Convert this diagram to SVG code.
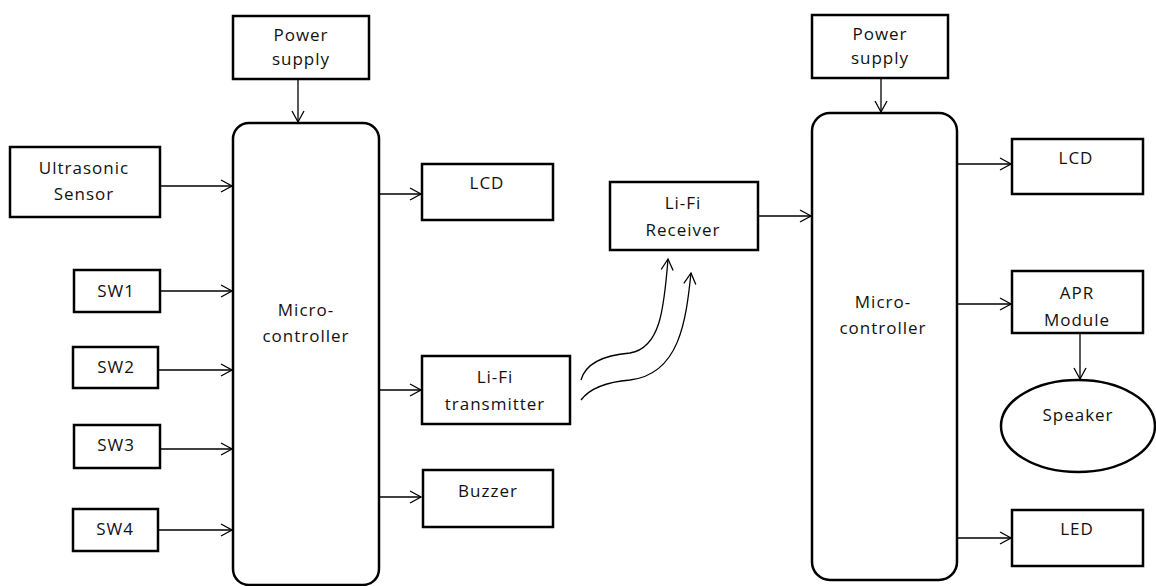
<svg xmlns="http://www.w3.org/2000/svg" width="1156" height="586" viewBox="0 0 1156 586">
<style>
.box{fill:#fff;stroke:#000;stroke-width:2.5}
.t{font-family:"Open Sans","DejaVu Sans",sans-serif;font-size:17px;fill:#111;text-anchor:middle;letter-spacing:1px}
.c{fill:none;stroke:#000;stroke-width:1.3}
</style>
<defs>
<marker id="ah" markerWidth="14" markerHeight="14" refX="12" refY="7" orient="auto" markerUnits="userSpaceOnUse">
<polyline points="1,1 12,7 1,13" fill="none" stroke="#000" stroke-width="1.3"/>
</marker>
</defs>
<rect width="1156" height="586" fill="#fff"/>
<g id="connectors">
<line class="c" x1="298" y1="79" x2="298" y2="122" marker-end="url(#ah)"/>
<line class="c" x1="160" y1="186" x2="232" y2="186" marker-end="url(#ah)"/>
<line class="c" x1="160" y1="291" x2="232" y2="291" marker-end="url(#ah)"/>
<line class="c" x1="158" y1="370" x2="232" y2="370" marker-end="url(#ah)"/>
<line class="c" x1="160" y1="449" x2="232" y2="449" marker-end="url(#ah)"/>
<line class="c" x1="158" y1="530" x2="232" y2="530" marker-end="url(#ah)"/>
<line class="c" x1="380" y1="194" x2="421" y2="194" marker-end="url(#ah)"/>
<line class="c" x1="380" y1="390" x2="421" y2="390" marker-end="url(#ah)"/>
<line class="c" x1="380" y1="497" x2="421" y2="497" marker-end="url(#ah)"/>
<path class="c" d="M581,380 C586,362 606,355 630,353 C660,348 664,310 668,259" marker-end="url(#ah)"/>
<path class="c" d="M581,400 C590,388 606,382 630,380 C680,374 686,320 691,273" marker-end="url(#ah)"/>
<line class="c" x1="758" y1="216" x2="811" y2="216" marker-end="url(#ah)"/>
<line class="c" x1="881" y1="78" x2="881" y2="112" marker-end="url(#ah)"/>
<line class="c" x1="958" y1="164" x2="1011" y2="164" marker-end="url(#ah)"/>
<line class="c" x1="958" y1="304" x2="1011" y2="304" marker-end="url(#ah)"/>
<line class="c" x1="958" y1="538" x2="1011" y2="538" marker-end="url(#ah)"/>
<line class="c" x1="1080" y1="334" x2="1080" y2="379" marker-end="url(#ah)"/>
</g>
<g id="power1"><rect class="box" x="233" y="16" width="136" height="63"/><text class="t" x="301" y="41">Power</text><text class="t" x="301" y="65">supply</text></g>
<g id="mcu1"><rect class="box" x="233" y="123" width="146" height="462" rx="16"/><text class="t" x="306" y="316">Micro-</text><text class="t" x="306" y="342">controller</text></g>
<g id="ultrasonic"><rect class="box" x="10" y="147" width="150" height="70"/><text class="t" x="84" y="174">Ultrasonic</text><text class="t" x="84" y="200">Sensor</text></g>
<g id="sw1"><rect class="box" x="74" y="270" width="86" height="42"/><text class="t" x="116" y="297">SW1</text></g>
<g id="sw2"><rect class="box" x="73" y="347" width="85" height="41"/><text class="t" x="116" y="373">SW2</text></g>
<g id="sw3"><rect class="box" x="74" y="425" width="86" height="43"/><text class="t" x="116" y="451">SW3</text></g>
<g id="sw4"><rect class="box" x="73" y="509" width="85" height="42"/><text class="t" x="115" y="535">SW4</text></g>
<g id="lcd1"><rect class="box" x="422" y="164" width="131" height="56"/><text class="t" x="487" y="189">LCD</text></g>
<g id="tx"><rect class="box" x="422" y="356" width="148" height="68"/><text class="t" x="495" y="383">Li-Fi</text><text class="t" x="495" y="410">transmitter</text></g>
<g id="buzzer"><rect class="box" x="423" y="470" width="130" height="57"/><text class="t" x="488" y="497">Buzzer</text></g>
<g id="rx"><rect class="box" x="610" y="182" width="148" height="68"/><text class="t" x="683" y="209">Li-Fi</text><text class="t" x="683" y="236">Receiver</text></g>
<g id="power2"><rect class="box" x="812" y="15" width="136" height="63"/><text class="t" x="880" y="40">Power</text><text class="t" x="880" y="64">supply</text></g>
<g id="mcu2"><rect class="box" x="812" y="113" width="145" height="467" rx="18"/><text class="t" x="883" y="308">Micro-</text><text class="t" x="883" y="334">controller</text></g>
<g id="lcd2"><rect class="box" x="1012" y="139" width="131" height="55"/><text class="t" x="1076" y="164">LCD</text></g>
<g id="apr"><rect class="box" x="1012" y="271" width="131" height="62"/><text class="t" x="1077" y="299">APR</text><text class="t" x="1077" y="326">Module</text></g>
<g id="speaker"><ellipse class="box" cx="1078" cy="426" rx="77" ry="46"/><text class="t" x="1078" y="421">Speaker</text></g>
<g id="led"><rect class="box" x="1012" y="510" width="131" height="56"/><text class="t" x="1077" y="535">LED</text></g>
</svg>
